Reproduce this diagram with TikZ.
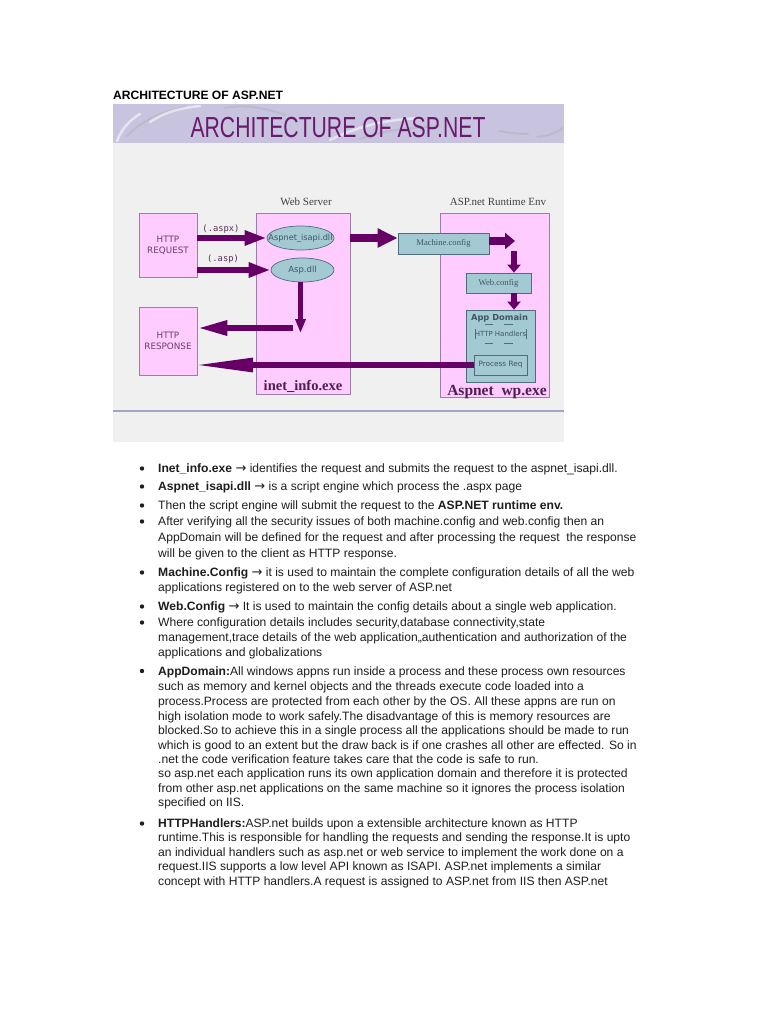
\documentclass[tikz,border=0pt]{standalone}
\usepackage{fontspec}
\usepackage{graphicx}
\setmainfont{Liberation Sans}
\newfontfamily\dejavu{DejaVu Sans}
\newfontfamily\dejavumono{DejaVu Sans Mono}
\newfontfamily\timesish{Liberation Serif}
\usetikzlibrary{arrows.meta,positioning,shapes.geometric}

\definecolor{pinkbox}{HTML}{FFCCFF}
\definecolor{pinkline}{HTML}{9C7FA6}
\definecolor{pinktext}{HTML}{6A3D6A}
\definecolor{tealbox}{HTML}{A3C9D3}
\definecolor{tealline}{HTML}{4E6E7C}
\definecolor{tealtext}{HTML}{3E5563}
\definecolor{plum}{HTML}{660066}
\definecolor{slidebg}{HTML}{F1F0F1}
\definecolor{bandbg}{HTML}{C8C4DF}
\definecolor{titlecol}{HTML}{6A1A6C}
\definecolor{exetext}{HTML}{4D1F4F}
\definecolor{bodytext}{HTML}{1E1E1E}
\definecolor{slideline}{HTML}{A2A5C6}

\newcommand{\toarrow}{{\dejavu\fontsize{13}{14}\selectfont →}}

\tikzset{
  pinkrect/.style={draw=pinkline, fill=pinkbox, line width=0.7pt, inner sep=0pt,
    align=center, text=pinktext, font=\dejavu\fontsize{8.8}{11}\selectfont},
  tealrect/.style={draw=tealline, fill=tealbox, line width=0.7pt, inner sep=0pt, text=tealtext},
  tealoval/.style={ellipse, draw=tealline, fill=tealbox, line width=0.7pt, inner sep=0pt},
  fatarrow/.style={draw=plum, line width=6pt},
  swoosh/.style={draw=white, line width=2.5pt, line cap=round, opacity=0.55},
  greyswoosh/.style={draw=black!35, line width=2pt, line cap=round, opacity=0.35},
  bodyline/.style={anchor=base west, inner sep=0pt, text=bodytext, font=\fontsize{12.1}{14}\selectfont},
  dot/.style={circle, fill=bodytext, inner sep=0pt, minimum size=4.4pt},
}

\begin{document}
\begin{tikzpicture}[x=1pt, y=-1pt]
  \useasboundingbox (0,0) rectangle (768,1024);
  \fill[white] (0,0) rectangle (768,1024);
  % page heading
  \node[anchor=base west, inner sep=0pt, font=\bfseries\fontsize{12.1}{13}\selectfont] (pagehead) at (113,100) {ARCHITECTURE OF ASP.NET};
  % slide background and title band
  \fill[slidebg] (113,104) rectangle (564,442);
  \fill[bandbg] (113,104) rectangle (564,143);
  \draw[swoosh] (117,141) .. controls (122,128) and (130,120) .. (140,114);
  \draw[greyswoosh] (127,136) .. controls (140,122) and (160,112) .. (185,107);
  \draw[swoosh] (150,122) .. controls (165,112) and (180,108) .. (200,106);
  \draw[greyswoosh] (225,108) .. controls (245,104) and (265,108) .. (285,115);
  \draw[swoosh] (330,140) .. controls (355,128) and (380,120) .. (420,118);
  \draw[greyswoosh] (360,139) .. controls (385,130) and (405,128) .. (440,126);
  \draw[greyswoosh] (500,131) .. controls (510,133) and (520,134) .. (528,134);
  \draw[greyswoosh] (537,137) .. controls (548,136) and (556,133) .. (563,128);
  \node[anchor=base, inner sep=0pt, text=titlecol, font=\fontsize{29}{30}\selectfont] (slidetitle) at (338,138) {\scalebox{0.73}[1]{ARCHITECTURE OF ASP.NET}};
  \draw[slideline, line width=2.5pt] (113,411) -- (564,411);

  % group captions
  \node[anchor=base, inner sep=0pt, text=black!75, font=\timesish\fontsize{11}{12}\selectfont] (srvcap) at (306,206) {Web Server};
  \node[anchor=base, inner sep=0pt, text=black!75, font=\timesish\fontsize{11}{12}\selectfont] (rtcap) at (498,206) {ASP.net Runtime Env};

  % left boxes
  \node[pinkrect, minimum width=58pt, minimum height=64pt] (req) at (168,245) {HTTP\\REQUEST};
  \node[pinkrect, minimum width=58pt, minimum height=68pt] (resp) at (168,341) {HTTP\\RESPONSE};

  % web server
  \node[pinkrect, minimum width=94pt, minimum height=181pt] (websrv) at (303,303.5) {};
  \node[tealoval, minimum width=67pt, minimum height=24pt] (isapi) at (300.5,238) {};
  \node[inner sep=0pt, text=tealtext, font=\dejavu\fontsize{8.2}{9}\selectfont] (isapilbl) at (isapi) {Aspnet\_isapi.dll};
  \node[tealoval, minimum width=63pt, minimum height=24pt] (aspdll) at (302.5,270) {};
  \node[inner sep=0pt, text=tealtext, font=\dejavu\fontsize{8.5}{9}\selectfont] (aspdlllbl) at (aspdll) {Asp.dll};
  \node[anchor=base, inner sep=0pt, text=exetext, font=\timesish\bfseries\fontsize{14.5}{15}\selectfont] (inetlbl) at (303,390) {inet\_info.exe};

  % runtime environment
  \node[pinkrect, minimum width=109pt, minimum height=184pt] (runtime) at (494.5,305) {};
  \node[tealrect, minimum width=91pt, minimum height=21pt, font=\timesish\fontsize{8.6}{9}\selectfont] (machine) at (443.5,243.5) {Machine.config};
  \node[tealrect, minimum width=65pt, minimum height=20pt, font=\timesish\fontsize{8.6}{9}\selectfont] (webcfg) at (498.5,283) {Web.config};
  \node[tealrect, minimum width=69pt, minimum height=72pt] (appdom) at (500.5,346) {};
  \node[anchor=base, inner sep=0pt, text=tealtext, font=\dejavu\bfseries\fontsize{8.3}{9}\selectfont] (appdomlbl) at (499.5,320) {App Domain};
  \node[inner sep=0pt, text=tealtext, font=\dejavu\fontsize{7}{8}\selectfont] (handlers) at (500.5,334) {HTTP Handlers};
  \draw[tealline, line width=0.6pt] (475,329) -- (475,339) (526,329) -- (526,339)
    (485,324.5) -- (493,324.5) (504,324.5) -- (513,324.5)
    (485,343.5) -- (493,343.5) (504,343.5) -- (513,343.5);
  \node[tealrect, minimum width=53pt, minimum height=20pt, font=\dejavu\fontsize{7.3}{8}\selectfont] (procreq) at (500.5,365) {Process Req};
  \node[anchor=base, inner sep=0pt, text=exetext, font=\timesish\bfseries\fontsize{15.5}{16}\selectfont] (wplbl) at (497,395.5) {Aspnet\ \ wp.exe};

  % named free ends
  \coordinate (mcfgout) at (515,241);
  \coordinate (dn1) at (514,251);
  \coordinate (dlldown) at (300.5,333);
  \coordinate (srvout) at (293,328);
  \coordinate (resptip) at (193,365);

  % connectors
  \draw[fatarrow, -{Triangle[length=22pt,width=14pt]}] (req.east |- isapi) -- (isapi.west);
  \draw[fatarrow, -{Triangle[length=22pt,width=14pt]}] (req.east |- aspdll) -- (aspdll.west);
  \node[inner sep=0pt, text=pinktext!80!black, font=\dejavumono\fontsize{8.8}{9}\selectfont] (aspxlbl) at (221,229) {(.aspx)};
  \node[inner sep=0pt, text=pinktext!80!black, font=\dejavumono\fontsize{8.8}{9}\selectfont] (asplbl) at (223,259.5) {(.asp)};
  \draw[fatarrow, line width=8pt, -{Triangle[length=20pt,width=18pt]}] (websrv.east |- isapi) -- (machine.west |- isapi);
  \draw[fatarrow, line width=8pt, -{Triangle[length=10pt,width=16pt]}] (machine.east |- mcfgout) -- (mcfgout);
  \draw[fatarrow, -{Triangle[length=8pt,width=13pt]}] (dn1) -- (dn1 |- webcfg.north);
  \draw[fatarrow, -{Triangle[length=8pt,width=13pt]}] (webcfg.south -| dn1) -- (appdom.north -| dn1);
  \draw[fatarrow, line width=5pt, -{Triangle[length=14pt,width=10pt]}] (aspdll.south -| dlldown) -- (dlldown);
  \draw[fatarrow, -{Triangle[length=30pt,width=14pt]}] (srvout) -- (resp.east |- srvout);
  \draw[fatarrow, -{Triangle[length=60pt,width=13pt]}] (procreq.west) -- (resptip);

  % bullet text
  \foreach \yy/\txt [count=\i] in {
    472.5/{\textbf{Inet\_info.exe} \toarrow{} identifies the request and submits the request to the aspnet\_isapi.dll.},
    490.5/{\textbf{Aspnet\_isapi.dll} \toarrow{} is a script engine which process the .aspx page},
    509.5/{Then the script engine will submit the request to the \textbf{ASP.NET runtime env.}},
    525.5/{After verifying all the security issues of both machine.config and web.config then an},
    541.5/{AppDomain will be defined for the request and after processing the request\ \ the response},
    557/{will be given to the client as HTTP response.},
    576.5/{\textbf{Machine.Config} \toarrow{} it is used to maintain the complete configuration details of all the web},
    591.5/{applications registered on to the web server of ASP.net},
    610.5/{\textbf{Web.Config} \toarrow{} It is used to maintain the config details about a single web application.},
    626.5/{Where configuration details includes security,database connectivity,state},
    641.5/{management,trace details of the web application,,authentication and authorization of the},
    656.5/{applications and globalizations},
    675/{\textbf{AppDomain:}All windows appns run inside a process and these process own resources},
    690.5/{such as memory and kernel objects and the threads execute code loaded into a},
    705.5/{process.Process are protected from each other by the OS. All these appns are run on},
    720.5/{high isolation mode to work safely.The disadvantage of this is memory resources are},
    734.5/{blocked.So to achieve this in a single process all the applications should be made to run},
    749.5/{which is good to an extent but the draw back is if one crashes all other are effected. So in},
    763.5/{.net the code verification feature takes care that the code is safe to run.},
    777.5/{so asp.net each application runs its own application domain and therefore it is protected},
    792.5/{from other asp.net applications on the same machine so it ignores the process isolation},
    806.5/{specified on IIS.},
    827.5/{\textbf{HTTPHandlers:}ASP.net builds upon a extensible architecture known as HTTP},
    841.5/{runtime.This is responsible for handling the requests and sending the response.It is upto},
    856.5/{an individual handlers such as asp.net or web service to implement the work done on a},
    870.5/{request.IIS supports a low level API known as ISAPI. ASP.net implements a similar},
    885.5/{concept with HTTP handlers.A request is assigned to ASP.net from IIS then ASP.net}}
    \node[bodyline] (line\i) at (158,\yy) {\txt};
  \foreach \yy [count=\i] in {472.5,490.5,509.5,525.5,576.5,610.5,626.5,675,827.5}
    \node[dot] (bullet\i) at (142,\yy-4) {};
\end{tikzpicture}
\end{document}
